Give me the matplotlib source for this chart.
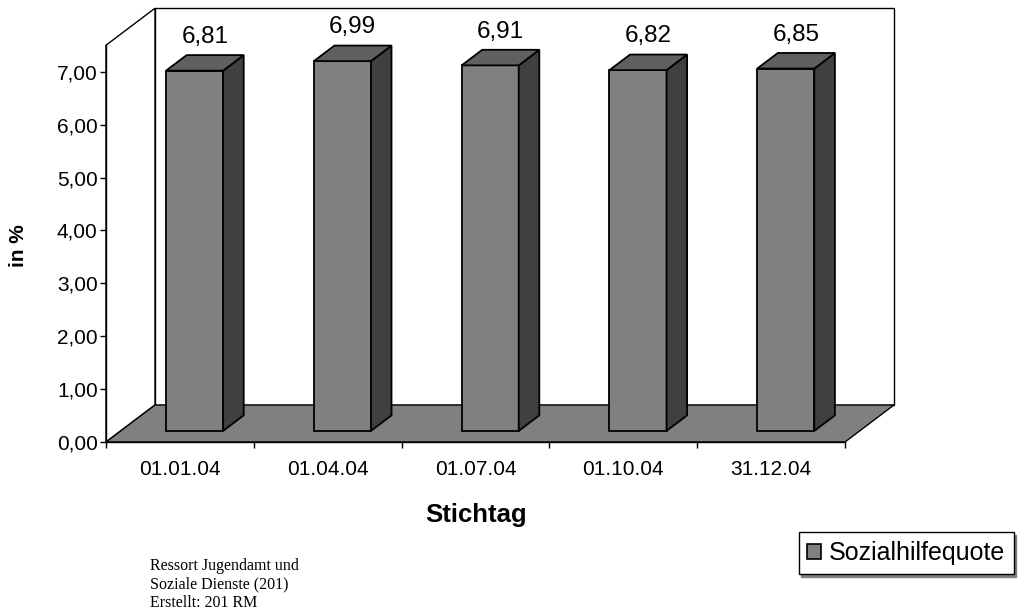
import matplotlib.pyplot as plt
from matplotlib.patches import Polygon, Rectangle
from matplotlib.ticker import FixedLocator, FuncFormatter

stichtage = ['01.01.04', '01.04.04', '01.07.04', '01.10.04', '31.12.04']
quote = [6.81, 6.99, 6.91, 6.82, 6.85]
y_ticks = [0, 1, 2, 3, 4, 5, 6, 7]

plt.rcParams['font.family'] = ['Liberation Sans', 'DejaVu Sans']

fig = plt.figure(figsize=(10.18, 6.11), dpi=100)
ax = fig.add_axes([106 / 1018, 169 / 611, 739 / 1018, 396.75 / 611])
ax.set_xlim(0, 5)
ax.set_ylim(0, 7.5)

# oblique depth of the box (x in categories, y in percent)
DX, DY = 0.3315, 0.70
n = len(quote)

# back wall, side wall and floor
wall = Rectangle((DX, DY), n, 7.5, facecolor='white', edgecolor='black',
                 lw=1, clip_on=False, zorder=0)
side = Polygon([(0, 0), (0, 7.5), (DX, 7.5 + DY), (DX, DY)], closed=True,
               facecolor='white', edgecolor='black', lw=1, clip_on=False, zorder=0)
floor = Polygon([(0, 0), (n, 0), (n + DX, DY), (DX, DY)], closed=True,
                facecolor='#808080', edgecolor='black', lw=1, clip_on=False, zorder=0.5)
for p in (wall, side, floor):
    ax.add_patch(p)

# 3d bars: front face, right side, top
d0, d1 = 0.30, 0.72
hw = 0.193
ddx, ddy = (d1 - d0) * DX, (d1 - d0) * DY
for i, v in enumerate(quote):
    x0 = i + 0.5 - hw + d0 * DX
    x1 = i + 0.5 + hw + d0 * DX
    y0 = d0 * DY
    ax.add_patch(Rectangle((x0, y0), x1 - x0, v, facecolor='#808080',
                           edgecolor='black', lw=1.3, clip_on=False, zorder=2))
    ax.add_patch(Polygon([(x1, y0), (x1 + ddx, y0 + ddy), (x1 + ddx, y0 + ddy + v),
                          (x1, y0 + v)], closed=True, facecolor='#404040',
                         edgecolor='black', lw=1.3, clip_on=False, zorder=2))
    ax.add_patch(Polygon([(x0, y0 + v), (x1, y0 + v), (x1 + ddx, y0 + v + ddy),
                          (x0 + ddx, y0 + v + ddy)], closed=True, facecolor='#606060',
                         edgecolor='black', lw=1.3, clip_on=False, zorder=2))
    ax.text(i + 0.5 + (d0 + d1) / 2 * DX, v + d1 * DY + 0.23,
            f'{v:.2f}'.replace('.', ','), ha='center', va='baseline', fontsize=17.5)

# axes styling
for s in ('top', 'right'):
    ax.spines[s].set_visible(False)
ax.spines['left'].set_linewidth(1)
ax.spines['bottom'].set_linewidth(1)
ax.spines['left'].set_zorder(3)

ax.yaxis.set_major_locator(FixedLocator(y_ticks))
ax.yaxis.set_major_formatter(FuncFormatter(lambda v, p: f'{v:.2f}'.replace('.', ',')))
ax.tick_params(axis='y', direction='out', length=4, width=1, pad=2, labelsize=15)

ax.set_xticks(range(n + 1))
ax.set_xticklabels([])
ax.set_xticks([i + 0.5 for i in range(n)], minor=True)
ax.set_xticklabels(stichtage, minor=True)
ax.tick_params(axis='x', which='major', direction='out', length=4, width=1)
ax.tick_params(axis='x', which='minor', length=0, pad=13, labelsize=15)

fig.text(18 / 1018, 1 - 246 / 611, 'in %', rotation=90, ha='center', va='center',
         fontsize=15, fontweight='bold')
fig.text(476 / 1018, 1 - 515 / 611, 'Stichtag', ha='center', va='center',
         fontsize=18.5, fontweight='bold')

fig.text(150 / 1018, 1 - 558 / 611,
         'Ressort Jugendamt und\nSoziale Dienste (201)\nErstellt: 201 RM',
         ha='left', va='top', fontsize=11.5, family='Liberation Serif', linespacing=1.2)

handle = Rectangle((0, 0), 1, 1, facecolor='#808080', edgecolor='black', lw=1.2)
fig.legend([handle], ['Sozialhilfequote'], loc='center',
           bbox_to_anchor=(906 / 1018, 1 - 553 / 611), fontsize=18,
           frameon=True, fancybox=False, edgecolor='black', framealpha=1,
           handlelength=0.55, handleheight=0.55, handletextpad=0.3,
           borderpad=0.35, borderaxespad=0,
           shadow={'color': '0.5', 'alpha': 1, 'ox': 2, 'oy': -2})

fig.savefig('out.png', dpi=100)
